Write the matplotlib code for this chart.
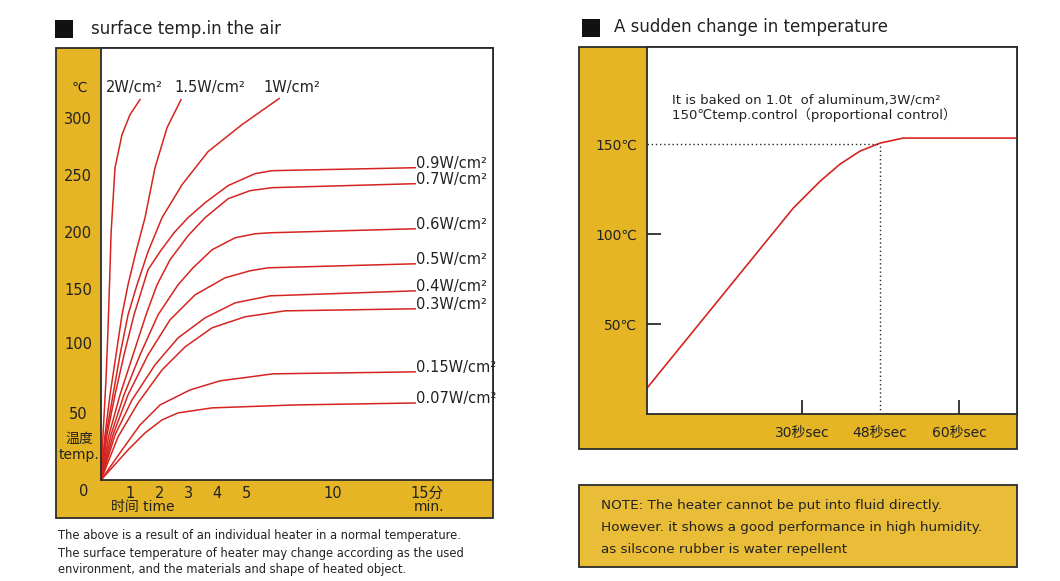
import numpy as np
import matplotlib.pyplot as plt
from matplotlib.patches import Rectangle

plt.rcParams['font.family'] = ['DejaVu Sans', 'Noto Sans CJK SC']

W, H = 1060, 581
YELLOW = '#E6B526'
NOTE_YELLOW = '#EABD38'
EDGE = '#2b2b2b'
RED = '#D62420'
TXT = '#222222'

# ---- left chart: surface temperature (C) vs time (min) ----
time_ticks = [1, 2, 3, 4, 5, 10, 15]
time_labels = ['1', '2', '3', '4', '5', '10', '15分']
temp_ticks = [50, 100, 150, 200, 250, 300]

t_2w = [0, 0.069, 0.172, 0.241, 0.31, 0.345, 0.379, 0.483, 0.724, 1.0, 1.333]
T_2w = [0, 33.6, 73.6, 112.0, 166.7, 197.4, 212.3, 256.1, 285.1, 302.6, 315.8]
t_15w = [0, 0.138, 0.31, 0.517, 0.724, 0.931, 1.2, 1.5, 1.833, 2.25, 2.75]
T_15w = [0, 33.6, 62.9, 91.4, 125.9, 153.5, 182.5, 212.3, 256.1, 291.2, 315.8]
t_1w = [0, 0.172, 0.414, 0.655, 0.931, 1.233, 1.6, 2.071, 2.786, 3.69, 4.862, 6.897]
T_1w = [0, 33.6, 62.9, 91.4, 125.9, 153.5, 182.5, 212.3, 241.2, 270.2, 293.9, 316.7]
t_09 = [0, 0.207, 0.483, 0.793, 1.133, 1.6, 2.0, 2.5, 3.0, 3.586, 4.379, 5.517, 6.494, 14.362]
T_09 = [0, 33.6, 62.9, 91.4, 125.9, 166.7, 182.5, 199.1, 212.3, 225.4, 240.4, 250.9, 253.5, 256.1]
t_07 = [0, 0.276, 0.655, 1.1, 1.533, 1.9, 2.357, 3.0, 3.586, 4.379, 5.23, 6.494, 14.362]
T_07 = [0, 33.6, 62.9, 91.4, 125.9, 153.5, 175.4, 196.5, 212.3, 228.9, 236.0, 238.6, 242.1]
t_06 = [0, 0.345, 0.793, 1.333, 1.933, 2.643, 3.172, 3.828, 4.621, 5.517, 6.379, 14.362]
T_06 = [0, 33.6, 62.9, 91.4, 125.9, 153.5, 168.4, 184.2, 194.7, 198.2, 199.1, 202.6]
t_05 = [0, 0.414, 0.931, 1.6, 2.357, 3.241, 4.276, 5.23, 6.264, 14.362]
T_05 = [0, 33.6, 62.9, 91.4, 121.3, 144.4, 159.6, 165.8, 168.4, 171.9]
t_04 = [0, 0.483, 1.067, 1.833, 2.643, 3.586, 4.621, 6.379, 14.362]
T_04 = [0, 33.6, 59.3, 84.3, 104.6, 123.1, 137.0, 143.5, 148.1]
t_03 = [0, 0.586, 1.267, 2.071, 2.893, 3.828, 4.966, 7.241, 14.362]
T_03 = [0, 32.1, 57.1, 80.7, 97.1, 113.9, 124.1, 129.6, 131.5]
t_015 = [0, 0.724, 1.333, 2.0, 3.069, 4.103, 5.23, 6.552, 14.362]
T_015 = [0, 22.4, 41.0, 55.7, 66.4, 72.9, 75.7, 77.9, 79.3]
t_007 = [0, 0.931, 1.5, 2.071, 2.643, 3.828, 7.816, 14.362]
T_007 = [0, 22.4, 35.1, 44.8, 50.0, 53.6, 55.7, 57.1]

top_curves = [(t_2w, T_2w, '2W/cm²', (-6, 12)),
              (t_15w, T_15w, '1.5W/cm²', (29, 12)),
              (t_1w, T_1w, '1W/cm²', (13, 11))]
side_curves = [(t_09, T_09, '0.9W/cm²'), (t_07, T_07, '0.7W/cm²'),
               (t_06, T_06, '0.6W/cm²'), (t_05, T_05, '0.5W/cm²'),
               (t_04, T_04, '0.4W/cm²'), (t_03, T_03, '0.3W/cm²'),
               (t_015, T_015, '0.15W/cm²'), (t_007, T_007, '0.07W/cm²')]

# ---- right chart: sudden change, seconds vs temperature ----
step_t = [0, 28.3, 34.2, 38.8, 43.4, 48, 51.5, 68.8]
step_T = [14.4, 114.4, 129.4, 138.9, 146.1, 150.5, 153.3, 153.3]
sec_ticks = [30, 60]
sec_labels = ['30秒sec', '60秒sec']
ctrl_sec = 48
ctrl_temp = 150


def piecewise(data_knots, px_knots):
    d = np.asarray(data_knots, float)
    p = np.asarray(px_knots, float)
    return (lambda v: np.interp(v, d, p), lambda v: np.interp(v, p, d))


def fig_box(x0, y0, x1, y1):
    return [x0 / W, 1 - y1 / H, (x1 - x0) / W, (y1 - y0) / H]


fig = plt.figure(figsize=(W / 100, H / 100), dpi=100)
fig.patch.set_facecolor('white')


def fig_text(x, y, s, **kw):
    fig.text(x / W, 1 - y / H, s, **kw)


def fig_rect(x0, y0, x1, y1, **kw):
    b = fig_box(x0, y0, x1, y1)
    fig.patches.append(Rectangle((b[0], b[1]), b[2], b[3],
                                 transform=fig.transFigure, zorder=-1, **kw))


# frames and header squares
fig_rect(56, 48, 493, 518, fc=YELLOW, ec=EDGE, lw=1.3)
fig_rect(579, 47, 1017, 449, fc=YELLOW, ec=EDGE, lw=1.3)
fig_rect(579, 485, 1017, 567, fc=NOTE_YELLOW, ec=EDGE, lw=1.3)
fig_rect(55, 20, 73, 38, fc='#111111', ec='none')
fig_rect(582, 19, 600, 37, fc='#111111', ec='none')

fig_text(91, 29, 'surface temp.in the air', fontsize=12, color=TXT, va='center')
fig_text(614, 27, 'A sudden change in temperature', fontsize=12, color=TXT, va='center')

# ---------------- left chart ----------------
ax1 = fig.add_axes(fig_box(101, 48, 493, 480))
ax1.set_xscale('function', functions=piecewise(
    [-5, 0, 1, 2, 3, 4, 5, 10, 15, 30],
    [-145, 0, 29, 59, 87, 116, 145, 232, 326, 608]))
ax1.set_yscale('function', functions=piecewise(
    [-50, 0, 50, 100, 150, 200, 250, 300, 400],
    [-67, 0, 67, 137, 191, 248, 305, 362, 476]))
ax1.set_xlim(0, 18.5)
ax1.set_ylim(0, 361)

for t, T, lab, off in top_curves:
    ax1.plot(t, T, color=RED, lw=1.1, solid_joinstyle='round')
    ax1.annotate(lab, (t[-1], T[-1]), xytext=off, textcoords='offset pixels',
                 ha='center', va='center', fontsize=10.5, color=TXT)
for t, T, lab in side_curves:
    ax1.plot(t, T, color=RED, lw=1.1, solid_joinstyle='round')
    ax1.annotate(lab, (t[-1], T[-1]), xytext=(1, 4), textcoords='offset pixels',
                 ha='left', va='center', fontsize=10.5, color=TXT)

ax1.set_xticks(time_ticks, time_labels)
ax1.set_yticks(temp_ticks, [str(v) for v in temp_ticks])
ax1.minorticks_off()
ax1.tick_params(length=0, labelsize=10.5, labelcolor=TXT)
ax1.tick_params(axis='x', pad=4)
ax1.tick_params(axis='y', pad=16.5)
plt.setp(ax1.get_yticklabels(), ha='center')
for s in ax1.spines.values():
    s.set_color(EDGE)
    s.set_linewidth(1.3)

fig_text(84, 492, '0', fontsize=10.5, color=TXT, ha='center', va='center')
fig_text(79, 88, '℃', fontsize=10, color=TXT, ha='center', va='center')
fig_text(79, 439, '温度', fontsize=10, color=TXT, ha='center', va='center')
fig_text(79, 455, 'temp.', fontsize=10, color=TXT, ha='center', va='center')
fig_text(143, 507, '时间 time', fontsize=10, color=TXT, ha='center', va='center')
fig_text(429, 507, 'min.', fontsize=10, color=TXT, ha='center', va='center')

caption = ['The above is a result of an individual heater in a normal temperature.',
           'The surface temperature of heater may change according as the used',
           'environment, and the materials and shape of heated object.']
for i, line in enumerate(caption):
    fig_text(58, 536 + 17 * i, line, fontsize=8.3, color=TXT, va='center')

# ---------------- right chart ----------------
ax2 = fig.add_axes(fig_box(647, 47, 1017, 414))
ax2.set_xscale('function', functions=piecewise(
    [-10, 0, 30, 48, 60, 100], [-52, 0, 155, 233, 312, 575]))
ax2.set_xlim(0, 68.8)
ax2.set_ylim(0, 203.9)

ax2.plot(step_t, step_T, color=RED, lw=1.2, solid_joinstyle='round')
ax2.plot([0, ctrl_sec], [ctrl_temp, ctrl_temp], ls=(0, (1, 2)), color=EDGE, lw=1)
ax2.plot([ctrl_sec, ctrl_sec], [0, ctrl_temp], ls=(0, (1, 2)), color=EDGE, lw=1)

ax2.set_yticks([50, 100], ['50℃', '100℃'])
ax2.set_yticks([ctrl_temp], ['150℃'], minor=True)
ax2.set_xticks(sec_ticks, sec_labels)
ax2.set_xticks([ctrl_sec], ['48秒sec'], minor=True)
ax2.tick_params(which='major', direction='in', length=10, width=1.3, color=EDGE)
ax2.tick_params(which='minor', length=0)
ax2.tick_params(which='both', labelsize=10, labelcolor=TXT)
ax2.tick_params(axis='x', which='both', pad=9)
ax2.tick_params(axis='y', which='both', pad=7)
for s in ax2.spines.values():
    s.set_color(EDGE)
    s.set_linewidth(1.3)

fig_text(672, 100, 'It is baked on 1.0t  of aluminum,3W/cm²', fontsize=9.5,
         color=TXT, va='center')
fig_text(672, 115, '150℃temp.control（proportional control）', fontsize=9.5,
         color=TXT, va='center')

note = ['NOTE: The heater cannot be put into fluid directly.',
        'However. it shows a good performance in high humidity.',
        'as silscone rubber is water repellent']
for i, line in enumerate(note):
    fig_text(601, 505 + 22.5 * i, line, fontsize=9.7, color=TXT, va='center')

fig.savefig('out.png', dpi=100)
